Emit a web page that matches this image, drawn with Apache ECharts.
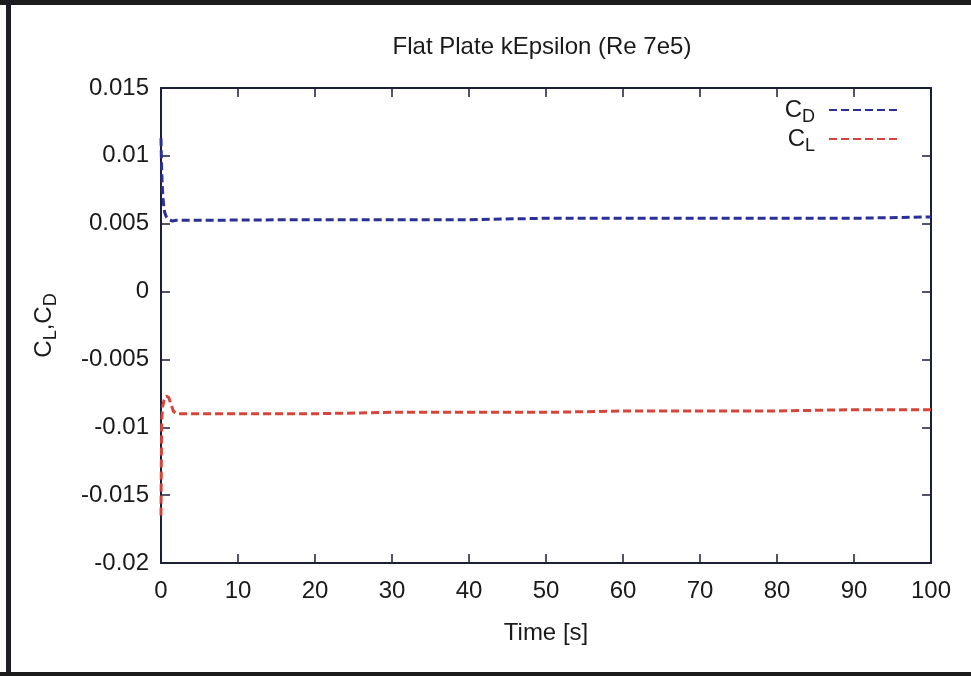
<!DOCTYPE html>
<html>
<head>
<meta charset="utf-8">
<script src="https://cdn.jsdelivr.net/npm/echarts@6/dist/echarts.min.js"></script>
<style>html,body{margin:0;padding:0;background:#fff;}#c{width:971px;height:676px;}</style>
</head>
<body>
<div id="c"></div>
<script>
// ---- data ----
var cdTime = [0, 0.05, 0.1, 0.15, 0.2, 0.3, 0.4, 0.5, 0.7, 1.0, 1.5, 2, 3, 5, 10, 20, 30, 40, 50, 60, 70, 80, 90, 100];
var cdValues = [0.0113, 0.0098, 0.0088, 0.0080, 0.0074, 0.0066, 0.0061, 0.0058, 0.0055, 0.0053, 0.0052, 0.00525, 0.00525, 0.00525, 0.00527, 0.0053, 0.0053, 0.0053, 0.0054, 0.0054, 0.0054, 0.0054, 0.0054, 0.0055];
var clTime = [0, 0.05, 0.1, 0.2, 0.4, 0.7, 1.0, 1.3, 1.6, 2.0, 3, 5, 10, 20, 30, 40, 50, 60, 70, 80, 90, 100];
var clValues = [-0.0165, -0.0120, -0.0095, -0.0085, -0.0080, -0.0077, -0.0078, -0.0083, -0.0088, -0.0090, -0.0090, -0.0090, -0.0090, -0.0090, -0.0089, -0.0089, -0.0089, -0.0088, -0.0088, -0.0088, -0.0087, -0.0087];
var xTicks = [0, 10, 20, 30, 40, 50, 60, 70, 80, 90, 100];
var yTicks = [-0.02, -0.015, -0.01, -0.005, 0, 0.005, 0.01, 0.015];

function zip(a, b) { return a.map(function (v, i) { return [v, b[i]]; }); }

var chart = echarts.init(document.getElementById('c'), null, { renderer: 'canvas' });
var font = 'Liberation Sans';
var axisCol = '#1b1f3a';
var textCol = '#1a1a1a';
var rich = {
  m: { fontFamily: font, fontSize: 24, color: textCol },
  s: { fontFamily: font, fontSize: 18, color: textCol, padding: [14, 0, 0, 0] }
};
var legRich = {
  m: { fontFamily: font, fontSize: 24, color: textCol },
  s: { fontFamily: font, fontSize: 18, color: textCol, padding: [14, 9, 0, 0] }
};
var tickStyle = { show: true, inside: true, length: 9, lineStyle: { color: axisCol, width: 1.5 } };
var lineAx = { show: true, onZero: false, lineStyle: { color: axisCol, width: 2 } };

chart.setOption({
  animation: false,
  backgroundColor: '#fff',
  title: {
    text: 'Flat Plate kEpsilon (Re 7e5)',
    left: 537, top: 30, textAlign: 'center',
    textStyle: { fontFamily: font, fontSize: 24, fontWeight: 'normal', color: textCol }
  },
  legend: {
    orient: 'vertical', right: 68, top: 93, align: 'right',
    itemWidth: 68, itemHeight: 10, itemGap: 1,
    itemStyle: { opacity: 0 },
    textStyle: { rich: legRich },
    formatter: function (n) { return n === 'CD' ? '{m|C}{s|D}' : '{m|C}{s|L}'; },
    data: ['CD', 'CL']
  },
  grid: { left: 161, right: 40, top: 88, bottom: 113 },
  xAxis: [{
    type: 'value', min: 0, max: 100, interval: 10,
    name: 'Time [s]', nameLocation: 'middle', nameGap: 58,
    nameTextStyle: { fontFamily: font, fontSize: 24, color: textCol },
    axisLine: lineAx, axisTick: tickStyle,
    axisLabel: { fontFamily: font, fontSize: 24, color: textCol, margin: 16,
      formatter: function (v) { return xTicks.indexOf(v) >= 0 ? String(v) : ''; } },
    splitLine: { show: false }
  }, {
    type: 'value', min: 0, max: 100, interval: 10, position: 'top',
    axisLine: lineAx, axisTick: tickStyle,
    axisLabel: { show: false }, splitLine: { show: false }
  }],
  yAxis: [{
    type: 'value', min: -0.02, max: 0.015, interval: 0.005,
    name: '{m|C}{s|L}{m|,C}{s|D}', nameLocation: 'middle', nameGap: 101, nameRotate: 90,
    nameTextStyle: { rich: rich },
    axisLine: lineAx, axisTick: tickStyle,
    axisLabel: { fontFamily: font, fontSize: 24, color: textCol, margin: 12,
      formatter: function (v) {
        var r = Math.round(v * 1000) / 1000;
        for (var i = 0; i < yTicks.length; i++) { if (Math.abs(yTicks[i] - r) < 1e-9) return String(yTicks[i]); }
        return '';
      } },
    splitLine: { show: false }
  }, {
    type: 'value', min: -0.02, max: 0.015, interval: 0.005, position: 'right',
    axisLine: lineAx, axisTick: tickStyle,
    axisLabel: { show: false }, splitLine: { show: false }
  }],
  series: [{
    name: 'CD', type: 'line', xAxisIndex: 0, yAxisIndex: 0,
    data: zip(cdTime, cdValues), showSymbol: false, symbol: 'none',
    itemStyle: { color: '#2b2f98' },
    lineStyle: { color: '#2b2f98', width: 3, type: [8, 4] }
  }, {
    name: 'CL', type: 'line', xAxisIndex: 0, yAxisIndex: 0,
    data: zip(clTime, clValues), showSymbol: false, symbol: 'none',
    itemStyle: { color: '#d8443a' },
    lineStyle: { color: '#d8443a', width: 3, type: [8, 4] }
  }],
  graphic: [
    { type: 'rect', shape: { x: 0, y: 0, width: 971, height: 5 }, style: { fill: '#1c1c1c' } },
    { type: 'rect', shape: { x: 6, y: 0, width: 5, height: 676 }, style: { fill: '#1c1c2a' } },
    { type: 'rect', shape: { x: 0, y: 672, width: 971, height: 4 }, style: { fill: '#1c1c1c' } }
  ]
});
</script>
</body>
</html>
